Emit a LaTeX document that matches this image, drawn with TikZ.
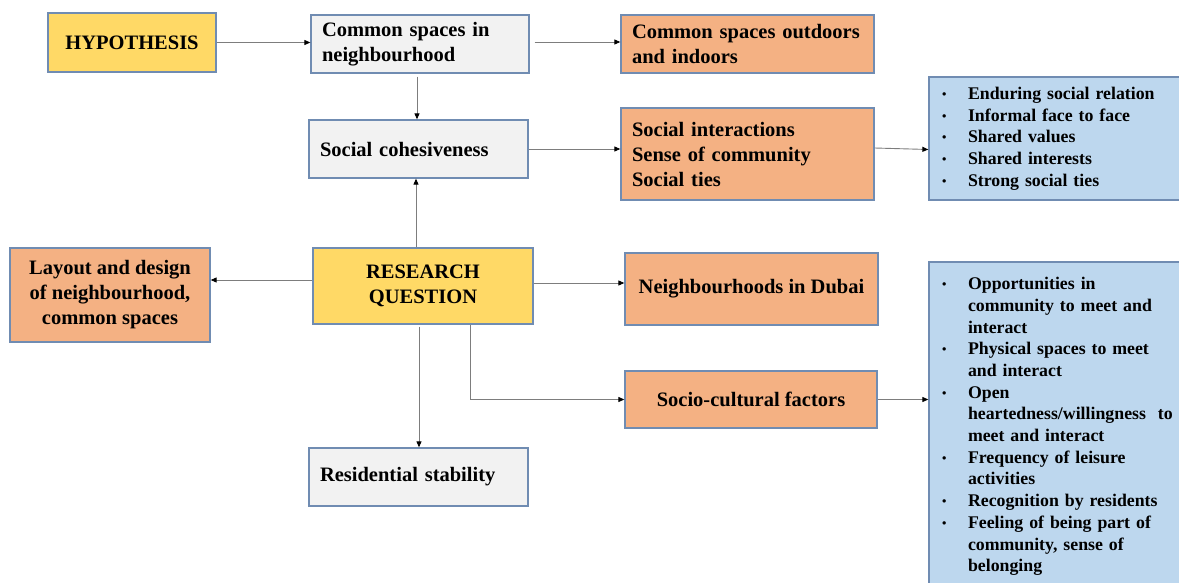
\documentclass[tikz,border=0pt]{standalone}
\usepackage{fontspec}
\setmainfont{Liberation Serif}
\usetikzlibrary{arrows.meta}
\definecolor{edgeblue}{RGB}{112,140,178}
\definecolor{hypyellow}{HTML}{FFD966}
\definecolor{boxgray}{HTML}{F2F2F2}
\definecolor{boxorange}{HTML}{F4B183}
\definecolor{boxblue}{HTML}{BDD7EE}
\definecolor{wire}{RGB}{125,125,125}
\newcommand{\mainsize}{\fontsize{20.5}{25}\selectfont\bfseries}
\newcommand{\listsize}{\fontsize{17.8}{21.7}\selectfont\bfseries}
\newcommand{\bul}{\makebox[26pt][l]{\raisebox{1pt}{\scalebox{0.7}{\textbullet}}}}
\newcommand{\ind}{\hspace*{26pt}}
\tikzset{
  box/.style={draw=edgeblue, line width=1.3pt, inner ysep=0pt, font=\mainsize},
  centrebox/.style={box, align=center, inner xsep=4pt},
  leftbox/.style={box, align=left, inner xsep=11pt},
  listbox/.style={draw=edgeblue, line width=1.3pt, fill=boxblue, align=left,
    inner xsep=13pt, inner ysep=0pt, font=\listsize, text width=235pt},
  arr/.style={draw=wire, line width=0.9pt,
    -{Triangle[length=6pt,width=5pt,fill=black,color=black]}}
}
\begin{document}
\begin{tikzpicture}[x=1pt,y=-1pt]
\useasboundingbox (0,0) rectangle (1179,583);

% boxes
\node[centrebox, fill=hypyellow, minimum width=168pt, minimum height=59pt]
  (hyp) at (132,42.5) {HYPOTHESIS};
\node[leftbox, fill=boxgray, minimum width=218pt, minimum height=58pt, text width=196pt]
  (csn) at (420,44) {Common spaces in\\neighbourhood};
\node[leftbox, fill=boxorange, minimum width=253pt, minimum height=58pt, text width=231pt]
  (cso) at (747.5,44) {Common spaces outdoors\\and indoors};
\node[leftbox, fill=boxgray, minimum width=219pt, minimum height=58pt, text width=197pt]
  (coh) at (418.5,149) {Social cohesiveness};
\node[leftbox, fill=boxorange, minimum width=253pt, minimum height=92pt, text width=231pt]
  (si) at (747.5,154) {Social interactions\\Sense of community\\Social ties};
\node[listbox, minimum width=261pt, minimum height=123pt]
  (bl1) at (1059.5,138.5)
  {\bul Enduring social relation\\\bul Informal face to face\\\bul Shared values\\
   \bul Shared interests\\\bul Strong social ties};
\node[centrebox, fill=boxorange, minimum width=200pt, minimum height=94pt]
  (lay) at (110,295) {Layout and design\\of neighbourhood,\\common spaces};
\node[centrebox, fill=hypyellow, minimum width=220pt, minimum height=76pt]
  (rq) at (423,286) {RESEARCH\\QUESTION};
\node[centrebox, fill=boxorange, minimum width=253pt, minimum height=72pt]
  (dub) at (751.5,289) {Neighbourhoods in Dubai};
\node[centrebox, fill=boxorange, minimum width=252pt, minimum height=57pt]
  (soc) at (751,399.5) {Socio-cultural factors};
\node[leftbox, fill=boxgray, minimum width=219pt, minimum height=58pt, text width=197pt]
  (res) at (418.5,477) {Residential stability};
\node[listbox, minimum width=261pt, minimum height=329pt]
  (bl2) at (1059.5,426.5)
  {\bul Opportunities in\\\ind community to meet and\\\ind interact\\
   \bul Physical spaces to meet\\\ind and interact\\
   \bul Open\\\ind heartedness/willingness\ \ to\\\ind meet and interact\\
   \bul Frequency of leisure\\\ind activities\\
   \bul Recognition by residents\\
   \bul Feeling of being part of\\\ind community, sense of\\\ind belonging};

% connector end points
\coordinate (csnR) at ([yshift=2pt]csn.east);
\coordinate (csnB) at ([xshift=-3pt]csn.south);
\coordinate (rqT) at ([xshift=-7pt]rq.north);
\coordinate (rqB) at ([xshift=-4pt]rq.south);
\coordinate (rqBR) at ([xshift=47pt]rq.south);
\coordinate (rqL) at ([yshift=6pt]rq.west);
\coordinate (rqR) at ([yshift=3pt]rq.east);
\coordinate (siR) at ([yshift=6pt]si.east);
\coordinate (bl1L) at ([yshift=-11pt]bl1.west);
\coordinate (bl2L) at ([yshift=27pt]bl2.west);

% connectors
\draw[arr] (hyp.east) -- (hyp.east -| csn.west);
\draw[arr, shorten <=5pt] (csnR) -- (csnR -| cso.west);
\draw[arr, shorten <=3pt] (csnB) -- (csnB |- coh.north);
\draw[arr] (coh.east) -- (coh.east -| si.west);
\draw[arr] (siR) -- (bl1L);
\draw[arr] (rqT) -- (rqT |- coh.south);
\draw[arr] (rqL) -- (rqL -| lay.east);
\draw[arr] (rqR) -- (rqR -| dub.west);
\draw[arr] (rqBR) |- (soc.west);
\draw[arr, shorten <=2pt] (rqB) -- (rqB |- res.north);
\draw[arr] (soc.east) -- (bl2L);
\end{tikzpicture}
\end{document}
